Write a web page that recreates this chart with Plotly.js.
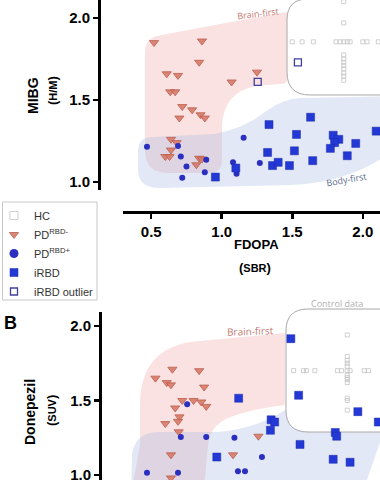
<!DOCTYPE html>
<html>
<head>
<meta charset="utf-8">
<script src="https://cdn.plot.ly/plotly-3.0.1.min.js"></script>
<style>
html,body{margin:0;padding:0;overflow:hidden;background:#fff;width:380px;height:480px;}
#chart{width:406px;height:480px;margin-left:-6px;}
</style>
</head>
<body>
<div id="chart"></div>
<script>
// ---------- Panel A : FDOPA (SBR) vs MIBG (H/M) ----------
const hcA_x = [1.50,1.57,1.65,1.81,1.84,1.865,1.89,1.91,2.00,2.03,2.11,1.865,1.865,1.865,1.865,1.865,1.865,1.865,1.865,1.865,1.865];
const hcA_y = [1.855,1.855,1.855,1.855,1.855,1.855,1.855,1.855,1.855,1.855,1.855,2.10,1.97,1.775,1.75,1.73,1.71,1.69,1.665,1.645,1.62];
const pdNegA_x = [0.52,0.86,0.84,0.61,0.69,1.07,0.635,0.67,0.72,0.79,0.85,0.88,0.70,0.64,0.68,0.64,0.60,0.63,0.84,0.86,0.82,1.25];
const pdNegA_y = [1.85,1.86,1.73,1.66,1.65,1.61,1.55,1.55,1.46,1.44,1.41,1.39,1.39,1.26,1.24,1.195,1.155,1.155,1.145,1.14,1.105,1.67];
const pdPosA_x = [0.47,0.69,0.71,0.75,0.72,0.89,0.88,1.155,1.08,1.105,1.27];
const pdPosA_y = [1.215,1.22,1.155,1.095,1.025,1.135,1.06,1.27,1.12,1.05,1.115];
const irbdA_x = [1.63,1.335,1.53,1.79,1.83,1.80,1.77,1.95,2.095,1.325,1.515,1.89,1.645,1.36,1.40,1.48,0.955,1.10];
const irbdA_y = [1.395,1.35,1.29,1.285,1.26,1.24,1.205,1.235,1.31,1.18,1.19,1.16,1.13,1.10,1.12,1.10,1.03,1.085];
const outA_x = [1.255,1.54];
const outA_y = [1.61,1.73];

// ---------- Panel B : FDOPA (SBR) vs Donepezil (SUV) ----------
const hcB_x = [1.51,1.58,1.60,1.66,1.82,1.85,1.89,1.91,2.01,2.04,1.89,1.89,1.89,1.89,1.89,1.89,1.89,1.89,1.89,1.89,1.89,1.89];
const hcB_y = [1.70,1.70,1.70,1.70,1.70,1.70,1.70,1.70,1.70,1.70,1.94,1.795,1.77,1.75,1.73,1.67,1.655,1.64,1.62,1.515,1.50,1.435];
const pdNegB_x = [0.65,0.84,0.53,0.61,0.64,0.875,0.72,0.80,0.855,0.89,0.67,0.70,0.69,0.60,0.695,0.64,1.08,0.64,1.26];
const pdNegB_y = [1.71,1.70,1.65,1.62,1.605,1.59,1.50,1.50,1.49,1.46,1.45,1.39,1.36,1.345,1.29,1.135,1.135,0.98,1.26];
const pdPosB_x = [0.755,0.71,0.89,1.09,0.47,0.69,1.115,1.165,1.285];
const pdPosB_y = [1.475,1.255,1.255,1.25,1.015,1.015,1.025,1.025,1.12];
const irbdB_x = [1.49,1.545,1.12,1.965,2.11,1.35,1.375,1.345,1.805,1.815,1.555,1.79,1.91,0.965];
const irbdB_y = [1.915,1.535,1.515,1.425,1.355,1.37,1.355,1.30,1.285,1.26,1.205,1.105,1.085,1.12];

const legendNames = ['HC','PD<sup>RBD-</sup>','PD<sup>RBD+</sup>','iRBD','iRBD outlier'];
const tickValsX = [0.5,1.0,1.5,2.0];
const tickValsY = [1.0,1.5,2.0];

// ---------- styling ----------
const W = 406, H = 480, OX = 6;   // chart div is shifted 6px left of the page
const FONT = 'Arial, "Liberation Sans", sans-serif';
const mTri = {symbol:'triangle-down', size:8, color:'rgba(214,118,100,0.88)', line:{color:'#b9604f', width:0.8}};
const mCirc = {symbol:'circle', size:6, color:'#2b2fc0', line:{width:0}};
const mSq = {symbol:'square', size:8, color:'#2438d6', line:{color:'#1b2aa8', width:0.5}};
const mOut = {symbol:'square-open', size:7, color:'#3f3f9e', line:{width:1.3}};
const mHC = {symbol:'square-open', size:4, color:'#c4c4c4', line:{width:0.8}};

function tr(x, y, marker, name, xa, ya, show){
  return {type:'scatter', mode:'markers', x:x, y:y, marker:marker, name:name,
          xaxis:xa, yaxis:ya, showlegend:show, hoverinfo:'skip'};
}
// legend-only entries (no data) so that legend symbols can be larger than plot markers
function legendOnly(name, marker){
  return {type:'scatter', mode:'markers', x:[null], y:[null], name:name, showlegend:true,
          marker:marker, xaxis:'x', yaxis:'y', hoverinfo:'skip'};
}
const traces = [
  legendOnly(legendNames[0], {symbol:'square-open', size:8, color:'#cfcfcf', line:{width:1}}),
  tr(hcA_x, hcA_y, mHC, legendNames[0], 'x','y', false),
  tr(pdNegA_x, pdNegA_y, mTri, legendNames[1], 'x','y', true),
  legendOnly(legendNames[2], {symbol:'circle', size:9, color:'#2b2fc0'}),
  tr(pdPosA_x, pdPosA_y, mCirc, legendNames[2], 'x','y', false),
  tr(irbdA_x, irbdA_y, mSq, legendNames[3], 'x','y', true),
  tr(outA_x, outA_y, mOut, legendNames[4], 'x','y', true),
  tr(hcB_x, hcB_y, mHC, legendNames[0], 'x2','y2', false),
  tr(pdNegB_x, pdNegB_y, mTri, legendNames[1], 'x2','y2', false),
  tr(pdPosB_x, pdPosB_y, mCirc, legendNames[2], 'x2','y2', false),
  tr(irbdB_x, irbdB_y, mSq, legendNames[3], 'x2','y2', false)
];

// page-pixel -> paper helpers (decoration only)
function X(px){ return (px + OX) / W; }
function Y(py){ return 1 - py / H; }
function P(px, py){ return X(px).toFixed(4) + ',' + Y(py).toFixed(4); }
function ann(px, py, text, o){
  return Object.assign({x:X(px), y:Y(py), xref:'paper', yref:'paper', text:text, showarrow:false,
    xanchor:'center', yanchor:'middle', font:{family:FONT, size:12, color:'#000'}}, o||{});
}

const pinkA = `M${P(145,52)} Q${P(145,37)} ${P(162,35)} Q${P(240,20)} ${P(287,12)} L${P(287,80)} Q${P(287,84)} ${P(280,84)} L${P(256,86)} Q${P(224,92)} ${P(222,125)} L${P(222,160)} Q${P(222,173)} ${P(208,173)} L${P(168,173)} Q${P(145,173)} ${P(145,150)} Z`;
const blueA = `M${P(138,152)} Q${P(138,137)} ${P(152,137)} L${P(215,134)} Q${P(245,128)} ${P(265,112)} Q${P(282,99)} ${P(300,98)} L${P(410,96)} L${P(410,135)} Q${P(365,182)} ${P(290,185)} L${P(160,188)} Q${P(138,188)} ${P(138,170)} Z`;
const boxA = `M${P(420,-1)} L${P(308,-1)} Q${P(287,-1)} ${P(287,20)} L${P(287,72)} Q${P(287,95)} ${P(310,95)} L${P(420,95)} Z`;
const pinkB = `M${P(140,405)} Q${P(140,345)} ${P(200,341)} L${P(285,333)} L${P(285,405)} Q${P(250,409)} ${P(228,418)} Q${P(210,426)} ${P(208,445)} L${P(203,500)} L${P(130,500)} L${P(140,445)} Z`;
const blueB = `M${P(131,500)} L${P(132,455)} Q${P(134,433)} ${P(158,432)} L${P(218,432)} Q${P(262,428)} ${P(292,405)} L${P(410,398)} L${P(410,420)} L${P(385,428)} L${P(360,500)} Z`;
const boxB = `M${P(420,309)} L${P(308,309)} Q${P(286,309)} ${P(286,331)} L${P(286,410)} Q${P(286,432)} ${P(308,432)} L${P(420,432)} Z`;

const pinkFill = 'rgba(242,160,160,0.30)';
const blueFill = 'rgba(160,180,226,0.30)';
const shapes = [
  {type:'path', path:pinkA, xref:'paper', yref:'paper', fillcolor:pinkFill, line:{width:0}, layer:'below'},
  {type:'path', path:blueA, xref:'paper', yref:'paper', fillcolor:blueFill, line:{width:0}, layer:'below'},
  {type:'path', path:boxA, xref:'paper', yref:'paper', fillcolor:'#ffffff', line:{color:'#a8a8a8', width:1}, layer:'below'},
  {type:'path', path:pinkB, xref:'paper', yref:'paper', fillcolor:pinkFill, line:{width:0}, layer:'below'},
  {type:'path', path:blueB, xref:'paper', yref:'paper', fillcolor:blueFill, line:{width:0}, layer:'below'},
  {type:'path', path:boxB, xref:'paper', yref:'paper', fillcolor:'#ffffff', line:{color:'#a8a8a8', width:1}, layer:'below'},
  // legend frame
  {type:'rect', xref:'paper', yref:'paper', x0:X(2.5), x1:X(97), y0:Y(300), y1:Y(202),
   fillcolor:'#ffffff', line:{color:'#c8c8c8', width:1}, layer:'below'}
];

const bold = {family:FONT, weight:700, color:'#000'};
const annotations = [
  ann(5, 3, 'A', {yanchor:'bottom', font:Object.assign({}, bold, {size:18})}),
  ann(10.5, 323, 'B', {font:Object.assign({}, bold, {size:18})}),
  ann(33, 96, 'MIBG', {textangle:-90, font:Object.assign({}, bold, {size:14})}),
  ann(52, 91, '<span style="font-size:13px">(</span>H/M<span style="font-size:13px">)</span>', {textangle:-90, font:Object.assign({}, bold, {size:11})}),
  ann(256, 245, 'FDOPA', {font:Object.assign({}, bold, {size:13})}),
  ann(255, 267, '<span style="font-size:13px">(</span>SBR<span style="font-size:13px">)</span>', {font:Object.assign({}, bold, {size:11})}),
  ann(30, 412, 'Donepezil', {textangle:-90, font:Object.assign({}, bold, {size:14})}),
  ann(51, 411, '<span style="font-size:13px">(</span>SUV<span style="font-size:13px">)</span>', {textangle:-90, font:Object.assign({}, bold, {size:11})}),
  ann(258, 13, 'Brain-first', {textangle:-7, font:{family:'"Open Sans", sans-serif', size:9, color:'#c47a74'}}),
  ann(346, 179, 'Body-first', {textangle:-10, font:{family:'"Open Sans", sans-serif', size:9, color:'#5b6b8e'}}),
  ann(250, 331, 'Brain-first', {textangle:-2, font:{family:'"Open Sans", sans-serif', size:10, color:'#c47a74'}}),
  ann(337, 303, 'Control data', {font:{family:'"Open Sans", sans-serif', size:9, color:'#b0b0b0'}})
];

const axisCommon = {showgrid:false, zeroline:false, showline:true, linecolor:'#000', linewidth:3,
  ticks:'outside', ticklen:5, tickwidth:2.5, tickcolor:'#000', ticklabeloverflow:'allow',
  tickfont:{family:FONT, size:15, weight:700, color:'#000'}, tickformat:'.1f', fixedrange:true};

const layout = {
  width:W, height:H, margin:{l:0, r:0, t:0, b:0, autoexpand:false},
  paper_bgcolor:'#fff', plot_bgcolor:'rgba(0,0,0,0)',
  xaxis: Object.assign({}, axisCommon, {domain:[X(123), X(391)], range:[0.3, 2.2], tickvals:tickValsX,
          anchor:'free', position:Y(212)}),
  yaxis: Object.assign({}, axisCommon, {domain:[Y(190), 1], range:[0.951, 2.110], tickvals:tickValsY,
          anchor:'free', position:X(99)}),
  xaxis2: {domain:[X(123), X(391)], range:[0.3, 2.2], visible:false, anchor:'y2', fixedrange:true},
  yaxis2: Object.assign({}, axisCommon, {domain:[0, Y(311.7)], range:[0.966, 2.096], tickvals:tickValsY,
          anchor:'free', position:X(100)}),
  showlegend:true,
  legend:{x:0, y:Y(201), xanchor:'left', yanchor:'top', bgcolor:'rgba(0,0,0,0)', borderwidth:0,
          font:{family:FONT, size:11, color:'#333'}, tracegroupgap:0, itemwidth:30, traceorder:'normal'},
  shapes:shapes, annotations:annotations
};

Plotly.newPlot('chart', traces, layout, {displayModeBar:false, staticPlot:true});
</script>
</body>
</html>
